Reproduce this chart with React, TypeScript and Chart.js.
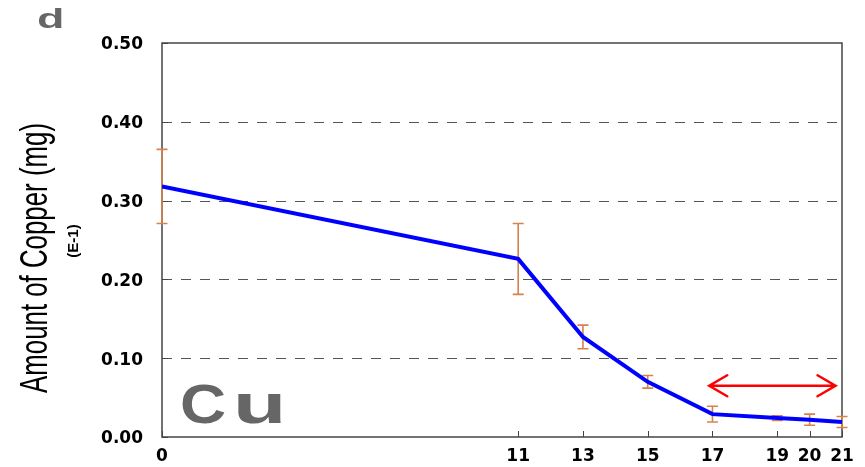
import React, { useEffect, useRef } from "react";
import { Chart, registerables } from "chart.js";

Chart.register(...registerables);

// ---- data ----
const xValues = [0, 11, 13, 15, 17, 19, 20, 21];
const copperMeans = [0.318, 0.226, 0.127, 0.07, 0.029, 0.024, 0.022, 0.019];
const copperErrors = [0.047, 0.045, 0.015, 0.008, 0.01, 0.003, 0.007, 0.007];
const xTickValues = [0, 11, 13, 15, 17, 19, 20, 21];
const yTickValues = [0, 0.1, 0.2, 0.3, 0.4, 0.5];
const arrowRange = [16.9, 20.8];
const arrowLevel = 0.065;
const yTitle = "Amount of Copper (mg)";
const ySubTitle = "(E-1)";
const panelLabel = "d";
const elementLabel = ["C", "u"];

const decorPlugin = {
  id: "decor",
  beforeDatasetsDraw(chart: any) {
    const { ctx, chartArea: a, scales } = chart;
    const xs = scales.x;
    const ys = scales.y;
    ctx.save();
    // dashed grid
    ctx.strokeStyle = "#555";
    ctx.lineWidth = 1.2;
    ctx.setLineDash([10, 9]);
    yTickValues.forEach((v) => {
      if (v <= 0 || v >= 0.5) return;
      const y = Math.round(ys.getPixelForValue(v)) + 0.5;
      ctx.beginPath();
      ctx.moveTo(a.left, y);
      ctx.lineTo(a.right, y);
      ctx.stroke();
    });
    ctx.setLineDash([]);
    // frame
    ctx.strokeStyle = "#444";
    ctx.lineWidth = 1.5;
    ctx.strokeRect(a.left, a.top, a.right - a.left, a.bottom - a.top);
    // inward tick marks
    ctx.lineWidth = 1;
    yTickValues.forEach((v) => {
      const y = Math.round(ys.getPixelForValue(v)) + 0.5;
      ctx.beginPath();
      ctx.moveTo(a.left, y);
      ctx.lineTo(a.left + 6, y);
      ctx.stroke();
    });
    xTickValues.forEach((v) => {
      const x = Math.round(xs.getPixelForValue(v)) + 0.5;
      ctx.beginPath();
      ctx.moveTo(x, a.bottom);
      ctx.lineTo(x, a.bottom - 6);
      ctx.stroke();
    });
    // error bars
    ctx.strokeStyle = "rgb(214,130,78)";
    ctx.lineWidth = 1.6;
    xValues.forEach((xv, i) => {
      const x = xs.getPixelForValue(xv);
      const yt = ys.getPixelForValue(copperMeans[i] + copperErrors[i]);
      const yb = ys.getPixelForValue(copperMeans[i] - copperErrors[i]);
      ctx.beginPath();
      ctx.moveTo(x, yt);
      ctx.lineTo(x, yb);
      ctx.moveTo(x - 5.5, yt);
      ctx.lineTo(x + 5.5, yt);
      ctx.moveTo(x - 5.5, yb);
      ctx.lineTo(x + 5.5, yb);
      ctx.stroke();
    });
    ctx.restore();
  },
  afterDatasetsDraw(chart: any) {
    const { ctx, chartArea: a, scales } = chart;
    const xs = scales.x;
    const ys = scales.y;
    ctx.save();
    // red double arrow
    const x1 = xs.getPixelForValue(arrowRange[0]);
    const x2 = xs.getPixelForValue(arrowRange[1]);
    const y = ys.getPixelForValue(arrowLevel);
    ctx.strokeStyle = "#ff0000";
    ctx.lineWidth = 2.5;
    ctx.lineCap = "round";
    ctx.beginPath();
    ctx.moveTo(x1, y);
    ctx.lineTo(x2, y);
    ctx.moveTo(x1 + 18, y - 10.5);
    ctx.lineTo(x1, y);
    ctx.lineTo(x1 + 18, y + 10.5);
    ctx.moveTo(x2 - 18, y - 10.5);
    ctx.lineTo(x2, y);
    ctx.lineTo(x2 - 18, y + 10.5);
    ctx.stroke();

    // "Cu" label
    ctx.fillStyle = "#666";
    ctx.font = 'bold 56px "Liberation Sans", Arial, sans-serif';
    ctx.textBaseline = "alphabetic";
    ctx.textAlign = "left";
    const base = a.bottom - 14;
    ctx.save();
    ctx.translate(a.left + 18, base);
    ctx.scale(1.14, 1);
    ctx.fillText(elementLabel[0], 0, 0);
    ctx.restore();
    ctx.save();
    ctx.translate(a.left + 71, base);
    ctx.scale(1.56, 1);
    ctx.fillText(elementLabel[1], 0, 0);
    ctx.restore();

    // panel letter
    ctx.save();
    ctx.translate(37, 28);
    ctx.scale(1.6, 1);
    ctx.font = 'bold 28px "Liberation Sans", Arial, sans-serif';
    ctx.fillText(panelLabel, 0, 0);
    ctx.restore();

    // y title
    ctx.fillStyle = "#000";
    ctx.save();
    ctx.translate(47, 258);
    ctx.rotate(-Math.PI / 2);
    ctx.scale(0.68, 1);
    ctx.textAlign = "center";
    ctx.font = '38px "Liberation Sans", Arial, sans-serif';
    ctx.fillText(yTitle, 0, 0);
    ctx.restore();
    ctx.save();
    ctx.translate(78, 241);
    ctx.rotate(-Math.PI / 2);
    ctx.textAlign = "center";
    ctx.font = 'bold 15px "Liberation Sans", Arial, sans-serif';
    ctx.fillText(ySubTitle, 0, 0);
    ctx.restore();
    ctx.restore();
  },
};

export default function App() {
  const canvasRef = useRef<HTMLCanvasElement | null>(null);

  useEffect(() => {
    if (!canvasRef.current) return;
    const tickFont = { family: '"DejaVu Sans", sans-serif', size: 17, weight: "bold" as const };
    const chart = new Chart(canvasRef.current, {
      type: "line",
      data: {
        datasets: [
          {
            data: xValues.map((x, i) => ({ x, y: copperMeans[i] })),
            borderColor: "#0000ff",
            borderWidth: 4,
            pointRadius: 0,
            tension: 0,
            fill: false,
          },
        ],
      },
      options: {
        responsive: false,
        animation: false,
        events: [],
        layout: { padding: { left: 0, top: 43, right: 23, bottom: 0 } },
        plugins: { legend: { display: false }, tooltip: { enabled: false } },
        scales: {
          x: {
            type: "linear",
            min: 0,
            max: 21,
            afterBuildTicks: (s: any) => {
              s.ticks = xTickValues.map((v) => ({ value: v }));
            },
            afterFit: (s: any) => {
              s.height = 30;
            },
            grid: { display: false, drawTicks: false },
            border: { display: false },
            ticks: {
              font: tickFont,
              color: "#000",
              padding: 9,
              maxRotation: 0,
              autoSkip: false,
              callback: (v: any) => String(v),
            },
          },
          y: {
            min: 0,
            max: 0.5,
            afterBuildTicks: (s: any) => {
              s.ticks = yTickValues.map((v) => ({ value: v }));
            },
            afterFit: (s: any) => {
              s.width = 162;
            },
            grid: { display: false, drawTicks: false },
            border: { display: false },
            ticks: {
              font: tickFont,
              color: "#000",
              padding: 19,
              labelOffset: 2,
              callback: (v: any) => Number(v).toFixed(2),
            },
          },
        },
      },
      plugins: [decorPlugin],
    });
    return () => chart.destroy();
  }, []);

  return (
    <div style={{ position: "absolute", left: 0, top: 0, width: 865, height: 467, background: "#fff" }}>
      <canvas ref={canvasRef} width={865} height={467} style={{ display: "block" }} />
    </div>
  );
}
